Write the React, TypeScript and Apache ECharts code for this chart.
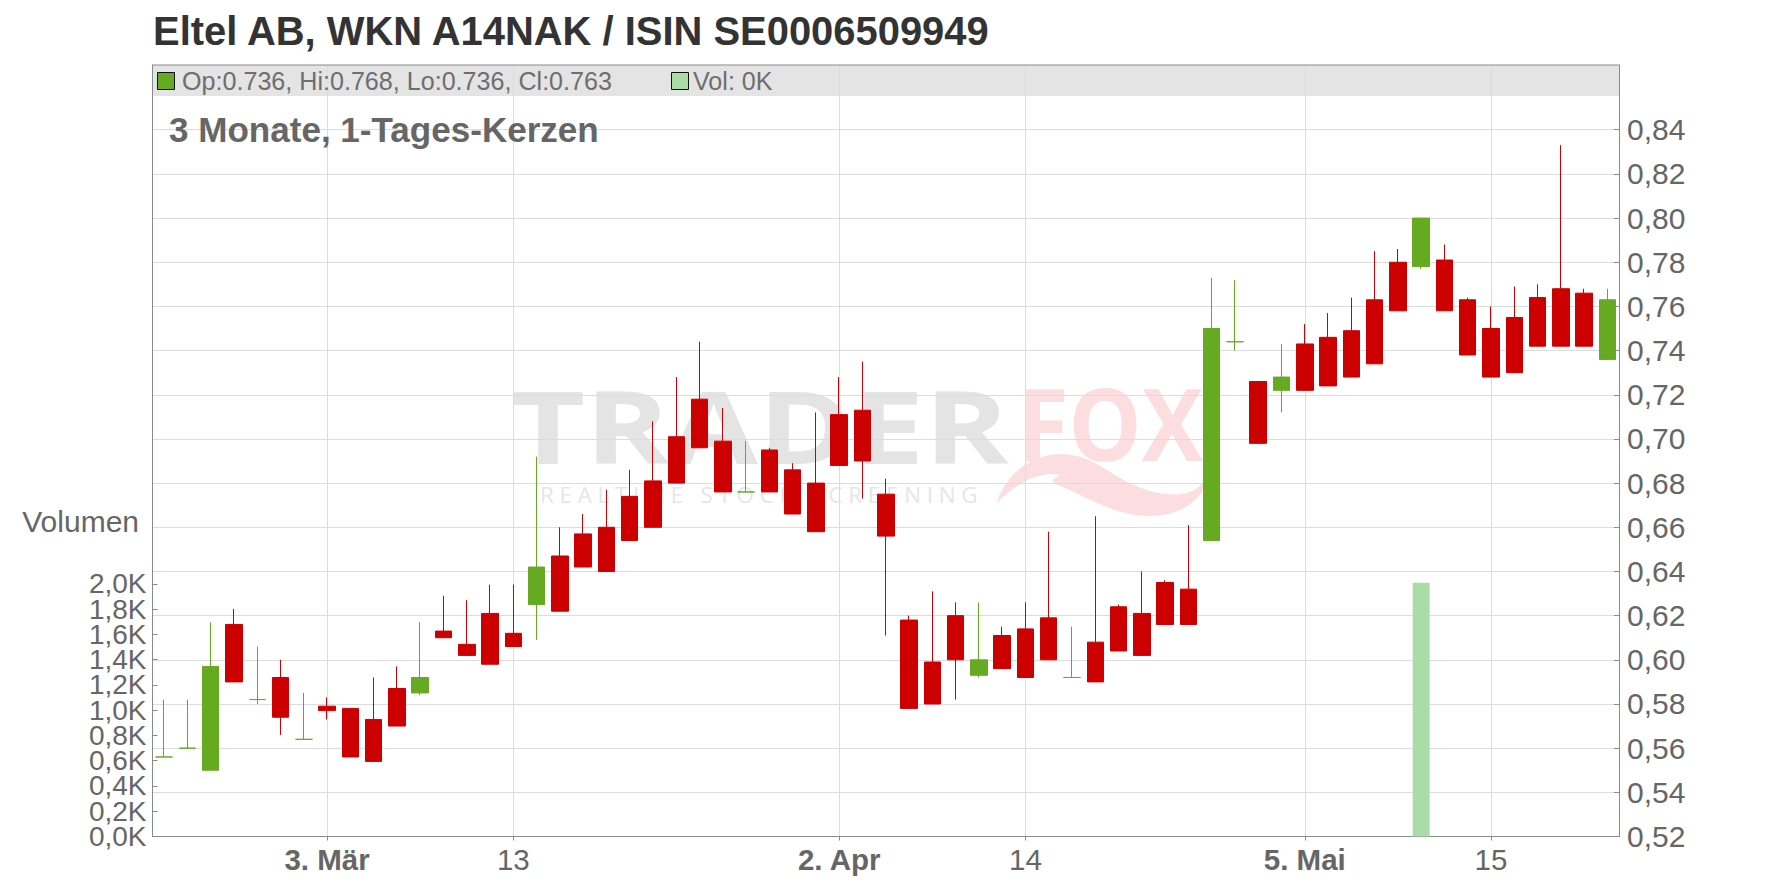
import React, { useEffect, useRef } from "react";
import * as echarts from "echarts";

// ---------- data ----------
const dates = [
  "2020-02-21", "2020-02-24", "2020-02-25", "2020-02-26", "2020-02-27", "2020-02-28", "2020-03-02",
  "2020-03-03", "2020-03-04", "2020-03-05", "2020-03-06", "2020-03-09", "2020-03-10", "2020-03-11", "2020-03-12", "2020-03-13",
  "2020-03-16", "2020-03-17", "2020-03-18", "2020-03-19", "2020-03-20", "2020-03-23", "2020-03-24", "2020-03-25", "2020-03-26", "2020-03-27", "2020-03-30", "2020-03-31", "2020-04-01", "2020-04-02",
  "2020-04-03", "2020-04-06", "2020-04-07", "2020-04-08", "2020-04-09", "2020-04-10", "2020-04-13", "2020-04-14",
  "2020-04-15", "2020-04-16", "2020-04-20", "2020-04-21", "2020-04-22", "2020-04-23", "2020-04-27", "2020-04-28", "2020-04-29", "2020-04-30", "2020-05-04",
  "2020-05-05", "2020-05-06", "2020-05-07", "2020-05-08", "2020-05-11", "2020-05-12", "2020-05-13", "2020-05-14", "2020-05-15",
  "2020-05-18", "2020-05-19", "2020-05-20", "2020-05-22", "2020-05-25",
];

const opens = [
  0.556, 0.560, 0.550, 0.616, 0.582, 0.592, 0.564, 0.579, 0.578, 0.573,
  0.587, 0.585, 0.613, 0.607, 0.621, 0.612, 0.625, 0.647, 0.657, 0.660,
  0.674, 0.681, 0.701, 0.718, 0.699, 0.676, 0.695, 0.686, 0.680, 0.711,
  0.713, 0.675, 0.618, 0.599, 0.620, 0.593, 0.611, 0.614, 0.619, 0.592,
  0.608, 0.624, 0.621, 0.635, 0.632, 0.654, 0.744, 0.726, 0.722, 0.743,
  0.746, 0.749, 0.763, 0.780, 0.778, 0.781, 0.763, 0.750, 0.755, 0.764,
  0.768, 0.766, 0.736,
];
const closes = [
  0.556, 0.560, 0.597, 0.590, 0.582, 0.574, 0.564, 0.577, 0.556, 0.554,
  0.570, 0.592, 0.610, 0.602, 0.598, 0.606, 0.642, 0.622, 0.642, 0.640,
  0.654, 0.660, 0.680, 0.696, 0.676, 0.676, 0.676, 0.666, 0.658, 0.688,
  0.690, 0.656, 0.578, 0.580, 0.600, 0.600, 0.596, 0.592, 0.600, 0.592,
  0.590, 0.604, 0.602, 0.616, 0.616, 0.750, 0.744, 0.698, 0.728, 0.722,
  0.724, 0.728, 0.734, 0.758, 0.800, 0.758, 0.738, 0.728, 0.730, 0.742,
  0.742, 0.742, 0.763,
];
const lows = [
  0.556, 0.560, 0.550, 0.590, 0.580, 0.566, 0.564, 0.573, 0.556, 0.554,
  0.570, 0.584, 0.610, 0.602, 0.598, 0.606, 0.609, 0.622, 0.642, 0.640,
  0.654, 0.660, 0.680, 0.696, 0.676, 0.676, 0.676, 0.666, 0.658, 0.688,
  0.673, 0.611, 0.578, 0.580, 0.582, 0.592, 0.596, 0.592, 0.600, 0.592,
  0.590, 0.604, 0.602, 0.616, 0.616, 0.654, 0.740, 0.698, 0.712, 0.722,
  0.724, 0.728, 0.734, 0.758, 0.777, 0.758, 0.738, 0.728, 0.730, 0.742,
  0.742, 0.742, 0.736,
];
const highs = [
  0.582, 0.582, 0.617, 0.623, 0.606, 0.600, 0.585, 0.583, 0.578, 0.592,
  0.597, 0.617, 0.629, 0.627, 0.634, 0.634, 0.692, 0.660, 0.666, 0.677,
  0.686, 0.708, 0.728, 0.744, 0.714, 0.699, 0.696, 0.689, 0.712, 0.728,
  0.735, 0.682, 0.620, 0.631, 0.626, 0.626, 0.615, 0.626, 0.658, 0.615,
  0.665, 0.625, 0.640, 0.636, 0.661, 0.773, 0.772, 0.726, 0.743, 0.752,
  0.757, 0.764, 0.785, 0.786, 0.800, 0.788, 0.764, 0.760, 0.769, 0.770,
  0.833, 0.768, 0.768,
];
const volumes = [
  0, 0, 0, 0, 0, 0, 0, 0, 0, 0,
  0, 0, 0, 0, 0, 0, 0, 0, 0, 0,
  0, 0, 0, 0, 0, 0, 0, 0, 0, 0,
  0, 0, 0, 0, 0, 0, 0, 0, 0, 0,
  0, 0, 0, 0, 0, 0, 0, 0, 0, 0,
  0, 0, 0, 0, 2010, 0, 0, 0, 0, 0,
  0, 0, 0,
];

const tickDates = ["2020-03-03", "2020-03-13", "2020-04-02", "2020-04-14", "2020-05-05", "2020-05-15"];
const tickLabels = ["3. Mär", "13", "2. Apr", "14", "5. Mai", "15"];
const priceTicks = [0.52, 0.54, 0.56, 0.58, 0.60, 0.62, 0.64, 0.66, 0.68, 0.70, 0.72, 0.74, 0.76, 0.78, 0.80, 0.82, 0.84];
const volumeTicks = [0, 200, 400, 600, 800, 1000, 1200, 1400, 1600, 1800, 2000];

const titleText = "Eltel AB, WKN A14NAK / ISIN SE0006509949";
const subtitleText = "3 Monate, 1-Tages-Kerzen";
const legendOhlc = "Op:0.736, Hi:0.768, Lo:0.736, Cl:0.763";
const legendVol = "Vol: 0K";
const volumeAxisName = "Volumen";

// ---------- styles ----------
const FONT = '"Liberation Sans", Arial, Helvetica, sans-serif';
const WM_FONT = '"Open Sans", "Liberation Sans", sans-serif';
const UP = "#66aa22";
const DOWN = "#cc0000";
const VOL = "#aadda5";
const AXIS = "#8a8a8a";
const GRID = "#dcdcdc";
const LABEL = "#666666";

const G_LEFT = 152.5;
const G_RIGHT_X = 1619;
const G_TOP = 65;
const G_BOTTOM_Y = 836.5;
const VOL_MAX = 6110;

function measure(text: string, font: string): number {
  const c = document.createElement("canvas").getContext("2d");
  if (!c) return 1;
  c.font = font;
  return c.measureText(text).width || 1;
}
function fitSize(text: string, weight: string, family: string, target: number): number {
  const w = measure(text, `${weight} 100px ${family}`);
  return (100 * target) / w;
}

const volFmt = (v: number) => (v > 2050 ? "" : (v / 1000).toFixed(1).replace(".", ",") + "K");

export default function App() {
  const ref = useRef<HTMLDivElement>(null);

  useEffect(() => {
    if (!ref.current) return;
    const chart = echarts.init(ref.current, undefined, { renderer: "svg" });

    const titleSize = fitSize(titleText, "bold", FONT, 839);
    const subSize = fitSize(subtitleText, "bold", FONT, 430);
    const legSize = fitSize(legendOhlc, "normal", FONT, 430);

    const wmSize = 100;
    const traderW = measure("TRADER", `bold ${wmSize}px ${WM_FONT}`);
    const foxW = measure("FOX", `bold ${wmSize}px ${WM_FONT}`);
    const rtText = "R E A L T I M E   S T O C K   S C R E E N I N G";
    const rtW = measure(rtText, `normal 22px ${WM_FONT}`);

    echarts.graphic.registerShape(
      "foxtail",
      echarts.graphic.extendPath(
        "M 997 503 C 1005 475 1030 455 1060 454 C 1080 454 1095 462 1110 472 C 1135 488 1165 500 1190 492 C 1200 488 1207 480 1210 470 C 1208 495 1185 516 1150 516 C 1120 516 1095 502 1072 491 C 1055 483 1045 483 1060 475 C 1040 470 1015 484 997 503 Z",
        {}
      )
    );

    const candleData = dates.map((d, i) => {
      const col = closes[i] >= opens[i] ? UP : DOWN;
      return {
        value: [opens[i], closes[i], lows[i], highs[i]],
        itemStyle: { color: col, color0: col, borderColor: col, borderColor0: col, borderColorDoji: col },
      };
    });

    const tickIdx = tickDates.map((d) => dates.indexOf(d));
    // volume labels split over two coincident axes so that neighbours never collide
    const volLabelsA = volumeTicks.filter((v, i) => i % 2 === 0);
    const volLabelsB = volumeTicks.filter((v, i) => i % 2 === 1);

    const volAxis = (labels: number[], showLine: boolean) => ({
      type: "value",
      position: "left",
      min: 0,
      max: VOL_MAX,
      interval: 200,
      z: 2,
      axisLine: { show: showLine, lineStyle: { color: AXIS, width: 1 } },
      axisTick: { show: true, inside: true, length: 5, customValues: labels, lineStyle: { color: AXIS } },
      axisLabel: {
        customValues: labels,
        showMinLabel: true,
        showMaxLabel: true,
        hideOverlap: false,
        margin: 6,
        color: LABEL,
        fontSize: 28,
        lineHeight: 24,
        fontFamily: FONT,
        formatter: volFmt,
      },
      splitLine: { show: false },
    });

    const option: any = {
      animation: false,
      backgroundColor: "#ffffff",
      textStyle: { fontFamily: FONT },
      grid: { left: G_LEFT, right: 1776 - G_RIGHT_X, top: G_TOP, bottom: 888 - G_BOTTOM_Y, containLabel: false },
      xAxis: {
        type: "category",
        data: dates,
        boundaryGap: true,
        z: 2,
        axisLine: { show: true, lineStyle: { color: AXIS, width: 1 } },
        axisTick: {
          show: true,
          alignWithLabel: true,
          length: 4,
          interval: (i: number) => tickIdx.indexOf(i) >= 0,
          lineStyle: { color: AXIS },
        },
        axisLabel: {
          interval: (i: number) => tickIdx.indexOf(i) >= 0,
          margin: 8,
          formatter: (v: string) => {
            const k = tickDates.indexOf(v);
            if (k < 0) return "";
            const t = tickLabels[k];
            return t.indexOf(".") >= 0 ? `{b|${t}}` : `{n|${t}}`;
          },
          rich: {
            b: { fontWeight: "bold", fontSize: 29.5, color: LABEL, fontFamily: FONT },
            n: { fontWeight: "normal", fontSize: 29.5, color: LABEL, fontFamily: FONT },
          },
        },
        splitLine: { show: false },
      },
      yAxis: [
        {
          type: "value",
          position: "right",
          min: 0.52,
          max: 0.8693,
          interval: 0.02,
          z: 2,
          axisLine: { show: true, lineStyle: { color: AXIS, width: 1 } },
          axisTick: { show: true, inside: true, length: 5, customValues: priceTicks, lineStyle: { color: AXIS } },
          axisLabel: {
            customValues: priceTicks,
            showMinLabel: true,
            margin: 8,
            color: LABEL,
            fontSize: 30,
            fontFamily: FONT,
            formatter: (v: number) => (v > 0.845 ? "" : v.toFixed(2).replace(".", ",")),
          },
          splitLine: { show: false },
        },
        volAxis(volLabelsA, true),
        volAxis(volLabelsB, false),
      ],
      series: [
        {
          type: "bar",
          name: "Volumen",
          xAxisIndex: 0,
          yAxisIndex: 1,
          data: volumes,
          barWidth: 17,
          z: 3,
          itemStyle: { color: VOL },
        },
        {
          type: "candlestick",
          name: "Kurs",
          xAxisIndex: 0,
          yAxisIndex: 0,
          data: candleData,
          barWidth: 17,
          z: 3,
          itemStyle: { borderWidth: 1 },
          markLine: {
            silent: true,
            z: 1,
            symbol: ["none", "none"],
            label: { show: false },
            lineStyle: { color: GRID, width: 1, type: "solid" },
            emphasis: { disabled: true },
            data: [
              ...tickDates.map((d) => ({ xAxis: d })),
              ...priceTicks.filter((v) => v > 0.53).map((v) => ({ yAxis: v })),
            ],
          },
        },
      ],
      graphic: {
        elements: [
          // watermark
          {
            type: "text",
            x: 511,
            y: 425,
            z: 0,
            silent: true,
            scaleX: 498 / traderW,
            style: {
              text: "TRADER",
              font: `bold ${wmSize}px ${WM_FONT}`,
              fill: "#e4e4e4",
              textAlign: "left",
              textVerticalAlign: "middle",
            },
          },
          {
            type: "text",
            x: 1018,
            y: 422,
            z: 0,
            silent: true,
            scaleX: 185 / foxW,
            style: {
              text: "FOX",
              font: `bold ${wmSize}px ${WM_FONT}`,
              fill: "#fcdde0",
              textAlign: "left",
              textVerticalAlign: "middle",
            },
          },
          {
            type: "foxtail",
            x: 0,
            y: 0,
            z: 0,
            silent: true,
            style: { fill: "#fcdde0" },
          },
          {
            type: "text",
            x: 540,
            y: 494,
            z: 0,
            silent: true,
            scaleX: 438 / rtW,
            style: {
              text: rtText,
              font: `normal 22px ${WM_FONT}`,
              fill: "#e6e6e6",
              textAlign: "left",
              textVerticalAlign: "middle",
            },
          },
          // legend band
          {
            type: "rect",
            z: 0,
            silent: true,
            shape: { x: G_LEFT, y: G_TOP, width: G_RIGHT_X - G_LEFT, height: 31 },
            style: { fill: "#e4e4e4" },
          },
          {
            type: "line",
            z: 4,
            silent: true,
            shape: { x1: G_LEFT, y1: G_TOP, x2: G_RIGHT_X, y2: G_TOP },
            style: { stroke: AXIS, lineWidth: 1 },
          },
          {
            type: "rect",
            z: 5,
            silent: true,
            shape: { x: 157.5, y: 72.5, width: 17, height: 17 },
            style: { fill: UP, stroke: "#111", lineWidth: 1 },
          },
          {
            type: "text",
            z: 5,
            x: 182,
            y: 81,
            silent: true,
            style: {
              text: legendOhlc,
              font: `normal ${legSize}px ${FONT}`,
              fill: "#6e6e6e",
              textAlign: "left",
              textVerticalAlign: "middle",
            },
          },
          {
            type: "rect",
            z: 5,
            silent: true,
            shape: { x: 671.5, y: 72.5, width: 17, height: 17 },
            style: { fill: VOL, stroke: "#111", lineWidth: 1 },
          },
          {
            type: "text",
            z: 5,
            x: 693,
            y: 81,
            silent: true,
            style: {
              text: legendVol,
              font: `normal ${legSize}px ${FONT}`,
              fill: "#6e6e6e",
              textAlign: "left",
              textVerticalAlign: "middle",
            },
          },
          // title
          {
            type: "text",
            z: 5,
            x: 153,
            y: 31,
            silent: true,
            style: {
              text: titleText,
              font: `bold ${titleSize}px ${FONT}`,
              fill: "#333333",
              textAlign: "left",
              textVerticalAlign: "middle",
            },
          },
          // subtitle
          {
            type: "text",
            z: 5,
            x: 169,
            y: 129,
            silent: true,
            style: {
              text: subtitleText,
              font: `bold ${subSize}px ${FONT}`,
              fill: LABEL,
              textAlign: "left",
              textVerticalAlign: "middle",
            },
          },
          // volume axis name
          {
            type: "text",
            z: 5,
            x: 139,
            y: 521,
            silent: true,
            style: {
              text: volumeAxisName,
              font: `normal 30px ${FONT}`,
              fill: LABEL,
              textAlign: "right",
              textVerticalAlign: "middle",
            },
          },
        ],
      },
    };

    chart.setOption(option);
    return () => chart.dispose();
  }, []);

  return (
    <div
      ref={ref}
      style={{ position: "absolute", left: 0, top: 0, width: 1776, height: 888 }}
    />
  );
}
